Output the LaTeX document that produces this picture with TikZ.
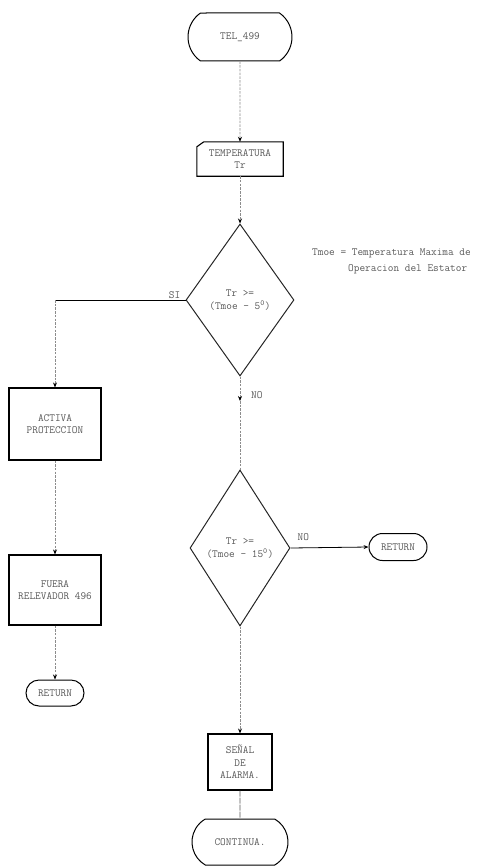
\documentclass[tikz,border=0pt]{standalone}
\usetikzlibrary{shapes.geometric,shapes.misc,arrows.meta}
\begin{document}
\begin{tikzpicture}[x=1pt,y=-1pt,
  txt/.style={font=\ttfamily\fontsize{11}{12.5}\selectfont, text=black!65, align=center},
  term/.style={txt, draw=black, line width=1pt, rounded rectangle,
    rounded rectangle arc length=#1, inner sep=0pt},
  procbox/.style={txt, draw=black, line width=1.1pt, rectangle, inner sep=0pt},
  decision/.style={txt, draw=black!85, line width=1pt, diamond, inner sep=0pt},
  flow/.style={draw=black!45, line width=0.7pt, dash pattern=on 2.5pt off 1.2pt},
  solidflow/.style={draw=black, line width=0.8pt},
  tip/.style={-{Stealth[length=5pt,width=4pt,black]}},
  lbl/.style={txt, inner sep=1pt}
]
\useasboundingbox (0,0) rectangle (489,867);

% start / end terminators
\node[term=110, minimum width=104pt, minimum height=48pt] (tel) at (240,37) {TEL\_499};
\node[term=120, minimum width=96pt, minimum height=46pt] (cont) at (240,842) {CONTINUA.};
\node[term=180, minimum width=58pt, minimum height=26pt] (ret1) at (55,693) {RETURN};
\node[term=180, minimum width=58pt, minimum height=27pt] (ret2) at (398,547) {RETURN};

% manual input of the stator temperature
\node[txt, minimum width=86pt, minimum height=34pt, inner sep=0pt] (temp) at (240,159) {TEMPERATURA\\Tr};
\draw[line width=1.1pt] (temp.south west) -- (temp.south east) -- (temp.north east)
  -- ([xshift=7pt]temp.north west) -- ([yshift=-5pt]temp.north west) -- cycle;

% decisions
\node[decision, minimum width=108pt, minimum height=152pt] (d1) at (240,300) {Tr >=\\(Tmoe - 5\textsuperscript{0})};
\node[decision, minimum width=100pt, minimum height=156pt] (d2) at (240,548) {Tr >=\\(Tmoe - 15\textsuperscript{0})};

% actions
\node[procbox, minimum width=92pt, minimum height=72pt] (act) at (55,424) {ACTIVA\\PROTECCION};
\node[procbox, minimum width=92pt, minimum height=70pt] (fuera) at (55,590) {FUERA\\RELEVADOR 496};
\node[procbox, minimum width=64pt, minimum height=56pt] (alarm) at (240,762) {SEÑAL\\DE\\ALARMA.};

% definition note
\node[txt, anchor=west, inner sep=0pt] (note1) at (312,253) {Tmoe = Temperatura Maxima de};
\node[txt, anchor=west, inner sep=0pt] (note2) at (348,269) {Operacion del Estator};

% connectors
\draw[flow, tip] (tel) -- (temp);
\draw[flow, tip] (temp) -- (d1);

\coordinate (sicorner) at (act.north |- d1.west);
\draw[solidflow] (d1.west) -- (sicorner);
\draw[flow, tip] (sicorner) -- (act.north);
\node[lbl, anchor=south east] (si) at ([xshift=-4pt]d1.west) {SI};

\draw[flow, tip] (act) -- (fuera);
\draw[flow, tip] (fuera) -- (ret1);

\coordinate (nomark) at (240,401);
\draw[flow, tip] (d1.south) -- (nomark);
\draw[flow] (nomark) -- (d2.north);
\node[lbl, anchor=west] (no1) at (250,395) {NO};

\draw[solidflow, tip] (d2.east) -- (ret2.west);
\node[lbl, anchor=south west] (no2) at ([xshift=6pt,yshift=6pt]d2.east) {NO};

\draw[flow, tip] (d2.south) -- (alarm.north);
\draw[draw=black!65, line width=0.6pt, dash pattern=on 6pt off 1pt] (alarm) -- (cont);
\end{tikzpicture}
\end{document}
